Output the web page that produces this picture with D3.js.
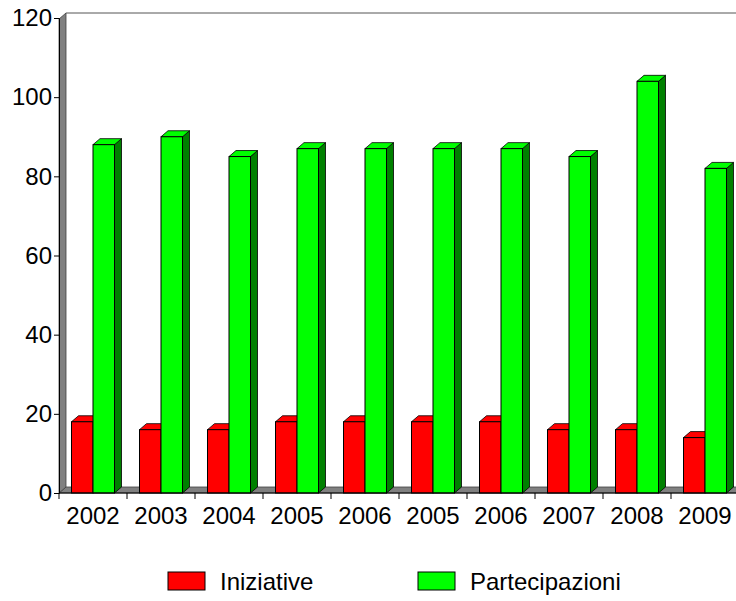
<!DOCTYPE html>
<html>
<head>
<meta charset="utf-8">
<script src="https://cdn.jsdelivr.net/npm/d3@7"></script>
<style>
  body { margin: 0; background: #fff; }
  text { font-family: "Liberation Sans", Arial, sans-serif; }
</style>
</head>
<body>
<svg width="736" height="601"></svg>
<script>
// Categories (years repeat in the original, so bars are keyed by index)
const years = ["2002", "2003", "2004", "2005", "2006", "2005", "2006", "2007", "2008", "2009"];
const iniziative = [18, 16, 16, 18, 18, 18, 18, 16, 16, 14];
const partecipazioni = [88, 90, 85, 87, 87, 87, 87, 85, 104, 82];
const yTicks = [0, 20, 40, 60, 80, 100, 120];

const seriesNames = ["Iniziative", "Partecipazioni"];
const seriesColors = [
  { front: "#ff0000", side: "#800000" },
  { front: "#00ff00", side: "#008000" }
];

// 3d depth offset
const DX = 7;
const DY = 6;
const FONT = 24;

const svg = d3.select("svg");

const x = d3.scaleBand()
  .domain(d3.range(years.length))
  .range([59, 739]);

const y = d3.scaleLinear().domain([0, 120]).range([493, 18]);

// Bars take 43px of each 68px slot
const inner = d3.scaleBand()
  .domain([0, 1])
  .range([12.5, 55.5]);

// Walls
const x0 = x.range()[0];
const x1 = x.range()[1];
svg.append("polygon")
  .attr("points", [[x0, y(0)], [x0 + DX, y(0) - DY], [x1 + DX, y(0) - DY], [x1, y(0)]].join(" "))
  .attr("fill", "#808080")
  .attr("stroke", "#404040")
  .attr("stroke-width", 0.8);

svg.append("polygon")
  .attr("points", [[x0, y(0)], [x0, y(120) + 1], [x0 + DX, y(120) + 1 - DY], [x0 + DX, y(0) - DY]].join(" "))
  .attr("fill", "#808080")
  .attr("stroke", "#404040")
  .attr("stroke-width", 0.8);

// back wall top edge
svg.append("line")
  .attr("x1", x0 + DX).attr("x2", 736)
  .attr("y1", y(120) + 1 - DY).attr("y2", y(120) + 1 - DY)
  .attr("stroke", "#555")
  .attr("stroke-width", 1);

// Bars
const barData = [];
years.forEach((yr, i) => {
  [iniziative[i], partecipazioni[i]].forEach((v, s) => {
    barData.push({ i, s, v });
  });
});

const bw = inner.bandwidth();

svg.append("g")
  .selectAll("g")
  .data(barData)
  .enter()
  .append("g")
  .each(function (d) {
    const g = d3.select(this);
    const bx = x(d.i) + inner(d.s);
    const top = y(d.v);
    const bot = y(0);
    const col = seriesColors[d.s];

    // side face
    g.append("polygon")
      .attr("points", [[bx + bw, bot], [bx + bw, top], [bx + bw + DX, top - DY], [bx + bw + DX, bot - DY]].join(" "))
      .attr("fill", col.side)
      .attr("stroke", "#000")
      .attr("stroke-width", 0.8);

    // top face
    g.append("polygon")
      .attr("points", [[bx, top], [bx + DX, top - DY], [bx + bw + DX, top - DY], [bx + bw, top]].join(" "))
      .attr("fill", col.front)
      .attr("stroke", "#000")
      .attr("stroke-width", 0.8);

    // front face
    g.append("rect")
      .attr("x", bx)
      .attr("y", top)
      .attr("width", bw)
      .attr("height", bot - top)
      .attr("fill", col.front)
      .attr("stroke", "#000")
      .attr("stroke-width", 1);
  });

// Y axis
const yAxis = svg.append("g")
  .attr("transform", `translate(${x0},0)`)
  .call(d3.axisLeft(y).tickValues(yTicks).tickSize(5).tickPadding(2));
yAxis.select(".domain").attr("stroke", "#000");
yAxis.selectAll("text")
  .attr("font-size", FONT)
  .attr("fill", "#000");

// X axis: ticks at category boundaries, labels centered
const xAxis = svg.append("g").attr("transform", `translate(0,${y(0)})`);
xAxis.append("line")
  .attr("x1", x0).attr("x2", 736)
  .attr("stroke", "#000");
xAxis.selectAll("line.tick")
  .data(d3.range(years.length))
  .enter()
  .append("line")
  .attr("class", "tick")
  .attr("x1", (d) => x(d)).attr("x2", (d) => x(d))
  .attr("y1", 0).attr("y2", 6)
  .attr("stroke", "#000");
xAxis.selectAll("text")
  .data(years)
  .enter()
  .append("text")
  .attr("x", (d, i) => x(i) + x.bandwidth() / 2)
  .attr("y", 31)
  .attr("text-anchor", "middle")
  .attr("font-size", FONT)
  .text((d) => d);

// Legend
const legendX = [168, 418];
const legend = svg.append("g")
  .selectAll("g")
  .data(seriesNames)
  .enter()
  .append("g")
  .attr("transform", (d, i) => `translate(${legendX[i]},572)`);
legend.append("rect")
  .attr("width", 37)
  .attr("height", 18)
  .attr("fill", (d, i) => seriesColors[i].front)
  .attr("stroke", "#000");
legend.append("text")
  .attr("x", 52)
  .attr("y", 18)
  .attr("font-size", FONT)
  .text((d) => d);
</script>
</body>
</html>
